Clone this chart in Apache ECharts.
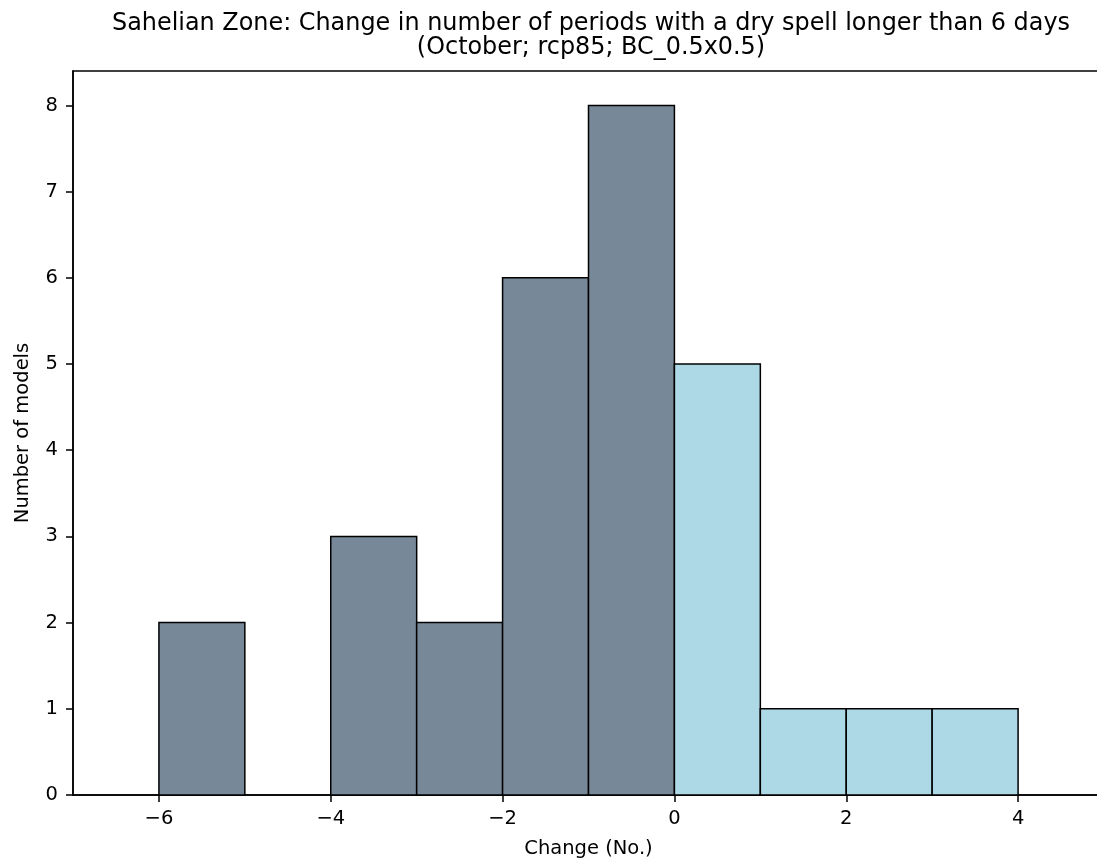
<!DOCTYPE html>
<html>
<head>
<meta charset="utf-8">
<script src="https://cdn.jsdelivr.net/npm/echarts@6/dist/echarts.min.js"></script>
<style>
html,body{margin:0;padding:0;background:#fff;}
#chart{width:1097px;height:865px;}
</style>
</head>
<body>
<div id="chart"></div>
<script>
const binStarts = [-6, -5, -4, -3, -2, -1, 0, 1, 2, 3];
const binEnds   = [-5, -4, -3, -2, -1, 0, 1, 2, 3, 4];
const counts    = [2, 0, 3, 2, 6, 8, 5, 1, 1, 1];
const xTicks = [-6, -4, -2, 0, 2, 4];
const yTicks = [0, 1, 2, 3, 4, 5, 6, 7, 8];

const FONT = 'DejaVu Sans';
const chart = echarts.init(document.getElementById('chart'), null, {renderer: 'canvas'});

const data = binStarts.map((s, i) => [s, binEnds[i], counts[i]]);

chart.setOption({
  backgroundColor: '#ffffff',
  animation: false,
  textStyle: {fontFamily: FONT},
  title: {
    text: 'Sahelian Zone: Change in number of periods with a dry spell longer than 6 days\n(October; rcp85; BC_0.5x0.5)',
    left: 586, top: 7, textAlign: 'center',
    textStyle: {fontFamily: FONT, fontSize: 23.9, fontWeight: 'normal', color: '#000', lineHeight: 24, align: 'center'}
  },
  grid: {left: 73, width: 1031, top: 71, bottom: 70, outerBoundsMode: 'none', containLabel: false,
    show: true, borderColor: '#000', borderWidth: 1.5, backgroundColor: 'transparent'},
  xAxis: {
    type: 'value', min: -7, max: 5,
    name: 'Change (No.)', nameLocation: 'middle', nameGap: 44,
    nameTextStyle: {fontFamily: FONT, fontSize: 19.5, color: '#000'},
    axisLine: {show: true, onZero: false, lineStyle: {color: '#000', width: 1.5}},
    axisTick: {show: true, length: 7, lineStyle: {color: '#000', width: 1.5}, customValues: xTicks},
    axisLabel: {show: true, color: '#000', fontSize: 19.5, fontFamily: FONT, margin: 14, customValues: xTicks,
      formatter: v => (v < 0 ? '\u2212' + Math.abs(v) : String(v))},
    splitLine: {show: false}
  },
  yAxis: {
    type: 'value', min: 0, max: 8.4, interval: 1,
    name: 'Number of models', nameLocation: 'middle', nameGap: 40, nameRotate: 90,
    nameTextStyle: {fontFamily: FONT, fontSize: 19.5, color: '#000'},
    axisLine: {show: true, onZero: false, lineStyle: {color: '#000', width: 1.5}},
    axisTick: {show: true, length: 7, lineStyle: {color: '#000', width: 1.5}, customValues: yTicks},
    axisLabel: {show: true, color: '#000', fontSize: 19.5, fontFamily: FONT, margin: 15, customValues: yTicks},
    splitLine: {show: false}
  },
  series: [{
    type: 'custom',
    data: data,
    encode: {x: [0, 1], y: 2},
    renderItem: function (params, api) {
      const s = api.value(0), e = api.value(1), c = api.value(2);
      if (c <= 0) return null;
      const p0 = api.coord([s, c]);
      const p1 = api.coord([e, 0]);
      return {
        type: 'rect',
        shape: {x: p0[0], y: p0[1], width: p1[0] - p0[0], height: p1[1] - p0[1]},
        style: {fill: s >= 0 ? '#add8e6' : '#778899', stroke: '#000', lineWidth: 1.5}
      };
    }
  }]
});
</script>
</body>
</html>
